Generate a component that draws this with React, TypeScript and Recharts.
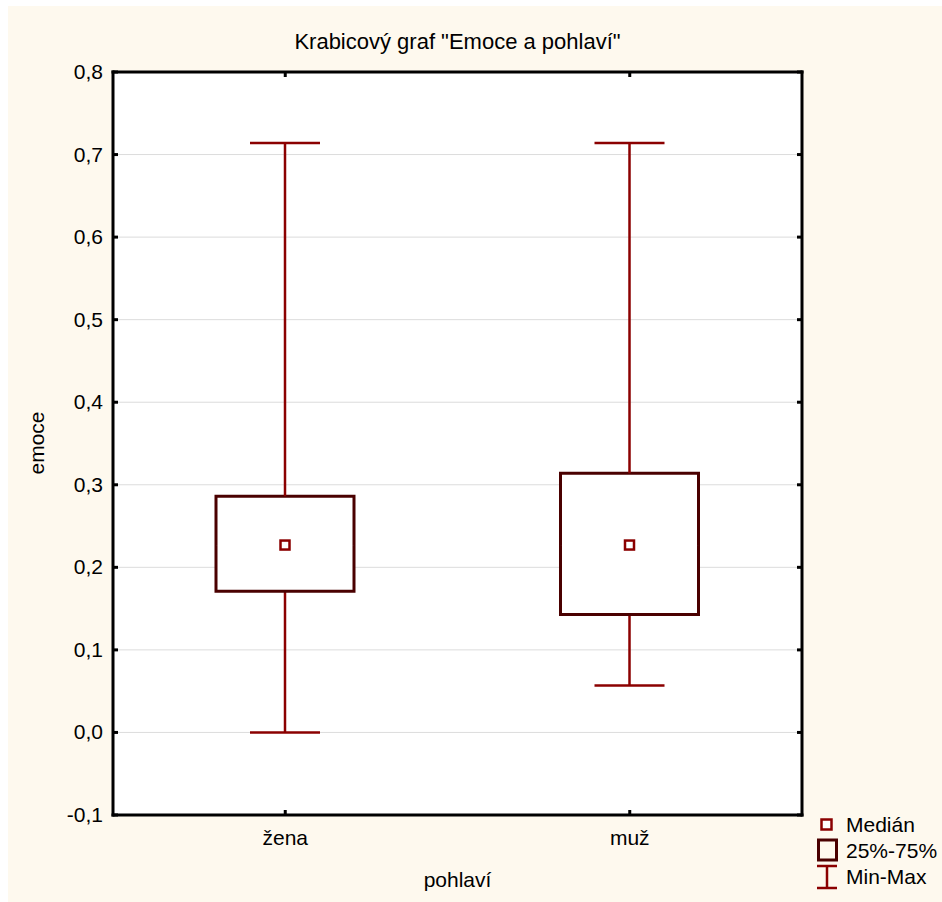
import React from 'react';
import { ComposedChart, Bar, XAxis, YAxis, CartesianGrid } from 'recharts';

const CATEGORIES = ['žena', 'muž'];
const MIN_VALUES = [0.0, 0.057];
const Q1_VALUES = [0.171, 0.143];
const MEDIAN_VALUES = [0.227, 0.227];
const Q3_VALUES = [0.286, 0.314];
const MAX_VALUES = [0.714, 0.714];

const Y_TICKS = [-0.1, 0, 0.1, 0.2, 0.3, 0.4, 0.5, 0.6, 0.7, 0.8];
const Y_TICK_LABELS = ['-0,1', '0,0', '0,1', '0,2', '0,3', '0,4', '0,5', '0,6', '0,7', '0,8'];

const TITLE = 'Krabicový graf "Emoce a pohlaví"';
const X_LABEL = 'pohlaví';
const Y_LABEL = 'emoce';
const LEGEND_LABELS = ['Medián', '25%-75%', 'Min-Max'];

const data = CATEGORIES.map((name, i) => ({
  name,
  base: MIN_VALUES[i],
  lowW: Q1_VALUES[i] - MIN_VALUES[i],
  boxLow: MEDIAN_VALUES[i] - Q1_VALUES[i],
  boxHigh: Q3_VALUES[i] - MEDIAN_VALUES[i],
  highW: MAX_VALUES[i] - Q3_VALUES[i],
}));

const WHISKER = '#8B0000';
const BOX = '#4A0000';
const CAP = 70;
const FONT = '"Liberation Sans", Arial, sans-serif';
const BG = '#FEF9EE';

const Empty = () => <g />;

const LowWhisker = (p: any) => {
  const { x, y, width, height } = p;
  const cx = x + width / 2;
  return (
    <g>
      <line x1={cx} x2={cx} y1={y} y2={y + height} stroke={WHISKER} strokeWidth={2.5} />
      <line x1={cx - CAP / 2} x2={cx + CAP / 2} y1={y + height} y2={y + height} stroke={WHISKER} strokeWidth={2.5} />
    </g>
  );
};

const HighWhisker = (p: any) => {
  const { x, y, width, height } = p;
  const cx = x + width / 2;
  return (
    <g>
      <line x1={cx} x2={cx} y1={y} y2={y + height} stroke={WHISKER} strokeWidth={2.5} />
      <line x1={cx - CAP / 2} x2={cx + CAP / 2} y1={y} y2={y} stroke={WHISKER} strokeWidth={2.5} />
    </g>
  );
};

const BoxLow = (p: any) => {
  const { x, y, width, height } = p;
  return (
    <g>
      <rect x={x} y={y} width={width} height={height} fill="#fff" />
      <path d={`M${x},${y} V${y + height} H${x + width} V${y}`} fill="none" stroke={BOX} strokeWidth={3} />
    </g>
  );
};

const BoxHigh = (p: any) => {
  const { x, y, width, height } = p;
  const cx = x + width / 2;
  const my = y + height;
  return (
    <g>
      <rect x={x} y={y} width={width} height={height} fill="#fff" />
      <path d={`M${x},${y + height} V${y} H${x + width} V${y + height}`} fill="none" stroke={BOX} strokeWidth={3} />
      <rect x={cx - 4.5} y={my - 4.5} width={9} height={9} fill="#fff" stroke={WHISKER} strokeWidth={2.5} />
    </g>
  );
};

const LeftTick = (p: any) => {
  const { x, y, payload } = p;
  const idx = Y_TICKS.findIndex((t) => Math.abs(t - payload.value) < 1e-9);
  return (
    <g>
      <line x1={x} x2={x + 5} y1={y} y2={y} stroke="#000" strokeWidth={3} />
      <text x={x - 10} y={y + 7} textAnchor="end" fontSize={21} fill="#000" fontFamily={FONT}>
        {Y_TICK_LABELS[idx]}
      </text>
    </g>
  );
};

const RightTick = (p: any) => {
  const { x, y } = p;
  return <line x1={x - 5} x2={x} y1={y} y2={y} stroke="#000" strokeWidth={3} />;
};

const BottomTick = (p: any) => {
  const { x, y, payload } = p;
  return (
    <g>
      <line x1={x} x2={x} y1={y - 5} y2={y} stroke="#000" strokeWidth={3} />
      <text x={x} y={y + 30} textAnchor="middle" fontSize={21} fill="#000" fontFamily={FONT}>
        {payload.value}
      </text>
    </g>
  );
};

const TopTick = (p: any) => {
  const { x, y } = p;
  return <line x1={x} x2={x} y1={y} y2={y + 5} stroke="#000" strokeWidth={3} />;
};

const axisLine = { stroke: '#000', strokeWidth: 3, strokeLinecap: 'square' as const };

export default function App() {
  return (
    <div style={{ position: 'fixed', left: 0, top: 0, right: 0, bottom: 0, overflow: 'hidden', background: BG }}>
      <div style={{ position: 'absolute', left: 0, top: 0, width: 8, bottom: 0, background: '#fff' }} />
      <div style={{ position: 'absolute', left: 0, top: 0, right: 0, height: 6, background: '#fff' }} />
      <div style={{ position: 'absolute', left: 8, top: 6, width: 934, height: 896, fontFamily: FONT }}>
        <ComposedChart
          width={934}
          height={896}
          data={data}
          margin={{ top: 56, right: 130, bottom: 47, left: 45 }}
        >
          <CartesianGrid horizontal vertical={false} stroke="#DCDCDC" fill="#fff" strokeWidth={1} />
          <XAxis
            dataKey="name"
            orientation="bottom"
            height={40}
            axisLine={axisLine}
            tickLine={false}
            tickSize={0}
            tickMargin={0}
            tick={<BottomTick />}
            interval={0}
          />
          <XAxis
            xAxisId="top"
            dataKey="name"
            orientation="top"
            height={10}
            axisLine={axisLine}
            tickLine={false}
            tickSize={0}
            tickMargin={0}
            tick={<TopTick />}
            interval={0}
          />
          <YAxis
            type="number"
            domain={[-0.1, 0.8]}
            ticks={Y_TICKS}
            width={60}
            axisLine={axisLine}
            tickLine={false}
            tickSize={0}
            tickMargin={0}
            tick={<LeftTick />}
            interval={0}
            allowDataOverflow
          />
          <YAxis
            yAxisId="right"
            orientation="right"
            type="number"
            domain={[-0.1, 0.8]}
            ticks={Y_TICKS}
            width={10}
            axisLine={axisLine}
            tickLine={false}
            tickSize={0}
            tickMargin={0}
            tick={<RightTick />}
            interval={0}
            allowDataOverflow
          />
          <Bar dataKey="base" stackId="b" barSize={138} shape={<Empty />} isAnimationActive={false} />
          <Bar dataKey="lowW" stackId="b" barSize={138} shape={<LowWhisker />} isAnimationActive={false} />
          <Bar dataKey="boxLow" stackId="b" barSize={138} shape={<BoxLow />} isAnimationActive={false} />
          <Bar dataKey="boxHigh" stackId="b" barSize={138} shape={<BoxHigh />} isAnimationActive={false} />
          <Bar dataKey="highW" stackId="b" barSize={138} shape={<HighWhisker />} isAnimationActive={false} />
        </ComposedChart>

        <div style={{ position: 'absolute', left: 105, top: 22, width: 689, textAlign: 'center', fontSize: 22, lineHeight: '28px', color: '#000' }}>
          {TITLE}
        </div>
        <div
          style={{
            position: 'absolute',
            left: 29 - 50,
            top: 437 - 14,
            width: 100,
            textAlign: 'center',
            fontSize: 21,
            lineHeight: '28px',
            transform: 'rotate(-90deg)',
            color: '#000',
          }}
        >
          {Y_LABEL}
        </div>
        <div style={{ position: 'absolute', left: 105, top: 860, width: 689, textAlign: 'center', fontSize: 21, lineHeight: '28px', color: '#000' }}>
          {X_LABEL}
        </div>

        <div style={{ position: 'absolute', left: 808, top: 806, fontSize: 21, color: '#000', whiteSpace: 'nowrap' }}>
          <div style={{ display: 'flex', alignItems: 'center', height: 26 }}>
            <svg width={30} height={26}>
              <rect x={5.5} y={7.5} width={10} height={10} fill="#fff" stroke={WHISKER} strokeWidth={2.5} />
            </svg>
            <span style={{ lineHeight: '26px' }}>{LEGEND_LABELS[0]}</span>
          </div>
          <div style={{ display: 'flex', alignItems: 'center', height: 26 }}>
            <svg width={30} height={26}>
              <rect x={2.5} y={2} width={18} height={20} fill="none" stroke={BOX} strokeWidth={3} />
            </svg>
            <span style={{ lineHeight: '26px' }}>{LEGEND_LABELS[1]}</span>
          </div>
          <div style={{ display: 'flex', alignItems: 'center', height: 26 }}>
            <svg width={30} height={26}>
              <line x1={11} x2={11} y1={2} y2={24} stroke={WHISKER} strokeWidth={2.5} />
              <line x1={1} x2={21} y1={2} y2={2} stroke={WHISKER} strokeWidth={2.5} />
              <line x1={1} x2={21} y1={24} y2={24} stroke={WHISKER} strokeWidth={2.5} />
            </svg>
            <span style={{ lineHeight: '26px' }}>{LEGEND_LABELS[2]}</span>
          </div>
        </div>
      </div>
    </div>
  );
}
